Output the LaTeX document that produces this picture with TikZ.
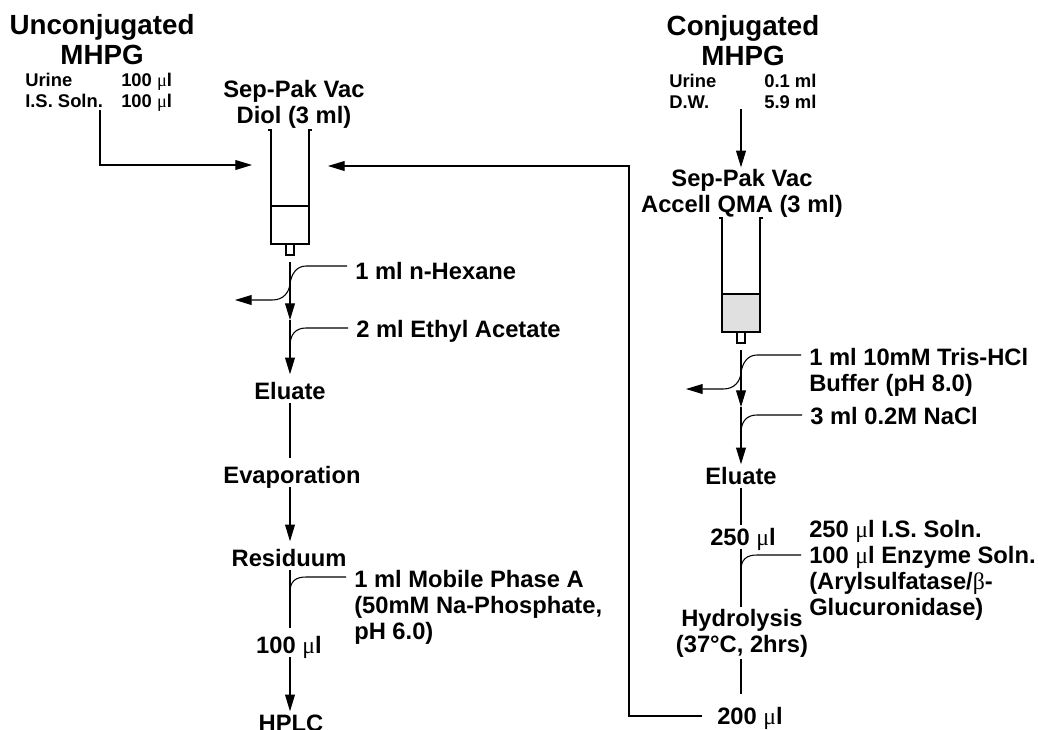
\documentclass[tikz,border=0pt]{standalone}
\usepackage{fontspec}
\setmainfont{Liberation Sans}
\newfontfamily\symfnt{Liberation Serif}
\usetikzlibrary{arrows.meta,positioning,calc}
\newcommand{\mcl}{{\symfnt\mdseries μ}l}
\newcommand{\bet}{{\symfnt\mdseries β}}
\tikzset{
  lab/.style={font=\fontsize{17.8}{19.5}\selectfont\bfseries,align=center,inner xsep=0pt,inner ysep=1pt},
  one/.style={lab,inner ysep=0pt,text height=15pt,text depth=2.25pt},
  side/.style={lab,align=left,anchor=north west,inner xsep=6pt,inner ysep=0pt},
  ttl/.style={font=\fontsize{20.8}{22.5}\selectfont\bfseries,align=center,inner sep=0pt},
  small/.style={font=\fontsize{13.8}{15.6}\selectfont\bfseries,anchor=west,inner sep=0pt,text height=10pt,text depth=0pt},
  flow/.style={line width=0.8pt},
  flowto/.style={flow,-{Triangle[length=12.5pt,width=7.4pt]}},
  gap/.style={shorten >=3.75pt},
}
\begin{document}
\begin{tikzpicture}[x=0.75pt,y=-0.75pt]
\useasboundingbox (0,0) rectangle (1038,729);
\coordinate (colU) at (290,0);
\coordinate (colC) at (741,0);
\node[ttl] (titleU) at (102,40) {Unconjugated\\MHPG};
\node[ttl] (titleC) at (743,41) {Conjugated\\MHPG};
\node[small] (urineU) at (25,80) {Urine};
\node[small] (isU) at (25,101) {I.S. Soln.};
\node[small] (volU) at (121,80) {100 \mcl};
\node[small] (volI) at (121,101) {100 \mcl};
\node[small] (urineC) at (669,81) {Urine};
\node[small] (dw) at (669,102) {D.W.};
\node[small] (volC) at (764,81) {0.1 ml};
\node[small] (volD) at (764,102) {5.9 ml};
\node[lab] (sepU) at (294,104) {Sep-Pak Vac\\Diol (3 ml)};
\node[lab] (sepC) at (742,193) {Sep-Pak Vac\\Accell QMA (3 ml)};
\node[side] (hexane) at (347,262) {1 ml n-Hexane};
\node[side] (ethyl) at (348,320) {2 ml Ethyl Acetate};
\node[one] (eluateU) at (290,391) {Eluate};
\node[one] (evap) at (292,475) {Evaporation};
\node[one] (resid) at (289,558) {Residuum};
\node[side] (mobile) at (346,570) {1 ml Mobile Phase A\\(50mM Na-Phosphate,\\pH 6.0)};
\node[one] (volH) at (289,645) {100 \mcl};
\node[one] (hplc) at (291,723) {HPLC};
\node[side] (tris) at (801,348) {1 ml 10mM Tris-HCl\\Buffer (pH 8.0)};
\node[side] (nacl) at (802,407) {3 ml 0.2M NaCl};
\node[one] (eluateC) at (741,476) {Eluate};
\node[one] (vol250) at (743,537) {250 \mcl};
\node[side] (enzyme) at (801,520) {250 \mcl{} I.S. Soln.\\100 \mcl{} Enzyme Soln.\\(Arylsulfatase/\bet-\\Glucuronidase)};
\node[lab] (hydro) at (742,633) {Hydrolysis\\(37°C, 2hrs)};
\node[one,inner xsep=11pt] (vol200) at (750,716) {200 \mcl};
% cartridges
\foreach \x/\ytop/\shade in {271/130/white,722/218/black!12}{
  \filldraw[flow,fill=\shade] (\x,\ytop+76) rectangle (\x+38,\ytop+114);
  \draw[flow] (\x-3,\ytop) -- (\x,\ytop) -- (\x,\ytop+76);
  \draw[flow] (\x+41,\ytop) -- (\x+38,\ytop) -- (\x+38,\ytop+76);
  \draw[flow] (\x+15,\ytop+114) rectangle (\x+23,\ytop+125);
}
\coordinate (inU) at (252,165);
\coordinate (inC) at (328,166);
\coordinate (tipU) at (290,262);
\coordinate (washU) at (235,300);
\coordinate (midU) at (290,320);
\coordinate (tipC) at (741,350);
\coordinate (washC) at (686,389);
\coordinate (midC) at (741,407);
% left column
\draw[flowto] ($(isU.south west)+(75,2)$) |- (inU);
\draw[flowto] (tipU) -- (midU);
\draw[flowto] (hexane.west|-0,266) -- (306,266) .. controls (296,266) and (291,275) .. (290,284) .. controls (289,292) and (284,300) .. (272,300) -- (washU);
\draw[flowto,gap] (midU) -- (eluateU.north-|colU);
\draw[flow] (ethyl.west|-0,328) -- (306,328) .. controls (296,328) and (290,334) .. (290,346);
\draw[flow,gap] (eluateU.south-|colU) -- (evap.north-|colU);
\draw[flowto,gap] (evap.south-|colU) -- (resid.north-|colU);
\draw[flow,gap] (resid.south-|colU) -- (volH.north-|colU);
\draw[flow] ($(mobile.north west)+(0,7)$) -- (306,577) .. controls (296,577) and (290,581) .. (290,592);
\draw[flowto] (volH.south-|colU) -- (hplc.north-|colU);
% right column
\draw[flowto] (dw.south-|colC) -- (sepC.north-|colC);
\draw[flowto] (tipC) -- (midC);
\draw[flowto] ($(tris.north west)+(0,7)$) -- (757,355) .. controls (747,355) and (742,364) .. (741,373) .. controls (740,381) and (735,389) .. (723,389) -- (washC);
\draw[flowto] (midC) -- (eluateC.north-|colC);
\draw[flow] (nacl.west|-0,415) -- (757,415) .. controls (747,415) and (741,421) .. (741,433);
\draw[flow] (eluateC.south-|colC) -- (vol250.north-|colC);
\draw[flow] (vol250.south-|colC) -- (hydro.north-|colC);
\draw[flow] ($(enzyme.north west)+(0,35)$) -- (757,555) .. controls (747,555) and (741,559) .. (741,570);
\draw[flow,shorten >=7.5pt] (hydro.south-|colC) -- (vol200.north-|colC);
\draw[flowto] (vol200.west) -| (629,166) -- (inC);
\end{tikzpicture}
\end{document}
